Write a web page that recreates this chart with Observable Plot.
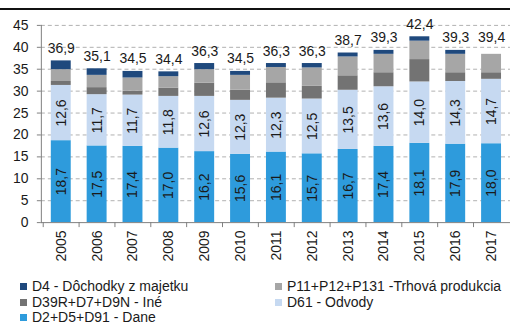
<!DOCTYPE html>
<html>
<head>
<meta charset="utf-8">
<script src="https://cdn.jsdelivr.net/npm/d3@7"></script>
<script src="https://cdn.jsdelivr.net/npm/@observablehq/plot@0.6"></script>
<style>
  html, body { margin: 0; padding: 0; background: #fff; overflow: hidden; width: 510px; height: 325px; }
  body { position: relative; font-family: "Liberation Sans", Arial, sans-serif; color: #1a1a1a; }
  #topline { position: absolute; left: 0; top: 8px; width: 510px; height: 2px; background: #111; }
  #chart { position: absolute; left: 0; top: 0; }
  #legend { position: absolute; left: 20px; top: 279px; display: grid; grid-template-columns: 255px auto;
            font-size: 14px; line-height: 15.5px; }
  .item { display: flex; align-items: center; white-space: nowrap; }
  .sw { width: 7px; height: 7px; margin-right: 5px; flex: none; }
</style>
</head>
<body>
<div id="topline"></div>
<div id="chart"></div>
<div id="legend"></div>
<script>
// Revenue structure by year (% of GDP)
const years = ["2005","2006","2007","2008","2009","2010","2011","2012","2013","2014","2015","2016","2017"];
const dane      = [18.7, 17.5, 17.4, 17.0, 16.2, 15.6, 16.1, 15.7, 16.7, 17.4, 18.1, 17.9, 18.0];
const odvody    = [12.6, 11.7, 11.7, 11.8, 12.6, 12.3, 12.3, 12.5, 13.5, 13.6, 14.0, 14.3, 14.7];
const ine       = [0.9, 1.6, 0.9, 1.9, 3.0, 2.3, 3.5, 2.9, 3.3, 3.2, 5.1, 2.0, 1.5];
const trhova    = [2.7, 2.8, 3.0, 2.6, 3.1, 3.4, 3.5, 4.2, 4.3, 4.2, 4.2, 4.2, 4.2];
const dochodky  = [2.0, 1.5, 1.5, 1.1, 1.4, 0.9, 0.9, 1.0, 0.9, 0.9, 1.0, 0.9, null];
const totals    = [36.9, 35.1, 34.5, 34.4, 36.3, 34.5, 36.3, 36.3, 38.7, 39.3, 42.4, 39.3, 39.4];
const yTicks    = [0, 5, 10, 15, 20, 25, 30, 35, 40, 45];

// stacking order, bottom to top
const series = [
  { name: "D2+D5+D91 - Dane",               color: "#2e9bdc", values: dane,     labelled: true },
  { name: "D61 - Odvody",                   color: "#c6d9f1", values: odvody,   labelled: true },
  { name: "D39R+D7+D9N - Iné",              color: "#737373", values: ine },
  { name: "P11+P12+P131 -Trhová produkcia", color: "#a6a6a6", values: trhova },
  { name: "D4 - Dôchodky z majetku",        color: "#1f497d", values: dochodky }
];

const rows = years.flatMap((year, i) =>
  series.map(s => ({ year, series: s.name, value: s.values[i], labelled: !!s.labelled }))
        .filter(d => d.value != null)
);

const fmt = v => v.toFixed(1).replace(".", ",");

const W = 512, H = 270, mL = 41, mR = 0, mT = 25, mB = 47;
const step = (W - mL - mR) / years.length;
const axisGray = "#7f7f7f";
const order = series.map(s => s.name);

const chart = Plot.plot({
  width: W, height: H,
  marginLeft: mL, marginRight: mR, marginTop: mT, marginBottom: mB,
  style: { fontFamily: "Liberation Sans, Arial, sans-serif", fontSize: "14px", color: "#1a1a1a", background: "transparent", overflow: "visible" },
  x: { type: "band", domain: years, paddingInner: 0.45, paddingOuter: 0.225, axis: null, label: null },
  y: { domain: [0, 45], axis: null, label: null },
  color: { domain: order, range: series.map(s => s.color) },
  marks: [
    Plot.gridY(yTicks.filter(t => t > 0), { stroke: "#b0b0b0", strokeOpacity: 1, strokeDasharray: "4,3" }),
    Plot.barY(rows, Plot.stackY({ x: "year", y: "value", fill: "series", z: "series", order })),
    Plot.text(rows, Plot.stackY({
      x: "year", y: "value", z: "series", order,
      text: d => d.labelled ? fmt(d.value) : null,
      rotate: -90, fill: "#1a1a1a", fontSize: 14
    })),
    Plot.text(years, {
      x: d => d, y: (d, i) => totals[i], text: (d, i) => fmt(totals[i]),
      lineAnchor: "bottom", dy: -8, fill: "#1a1a1a", fontSize: 14
    }),
    Plot.frame({ anchor: "left", stroke: axisGray }),
    Plot.ruleY([0], { stroke: axisGray }),
    Plot.axisY({ ticks: yTicks, tickSize: 4, tickPadding: 9, stroke: axisGray, fill: "#1a1a1a", fontSize: 14, label: null }),
    Plot.axisX({ tickSize: 5, tickFormat: () => "", dx: -step / 2, stroke: axisGray, label: null }),
    Plot.axisX({ tickSize: 0, tickPadding: 8, tickRotate: -90, fill: "#1a1a1a", fontSize: 14, label: null })
  ]
});
document.getElementById("chart").appendChild(chart);

// legend: two columns, read row by row
const legendOrder = [
  "D4 - Dôchodky z majetku", "P11+P12+P131 -Trhová produkcia",
  "D39R+D7+D9N - Iné", "D61 - Odvody",
  "D2+D5+D91 - Dane"
];
const legend = document.getElementById("legend");
for (const name of legendOrder) {
  const s = series.find(t => t.name === name);
  const item = document.createElement("div");
  item.className = "item";
  const sw = document.createElement("span");
  sw.className = "sw";
  sw.style.background = s.color;
  const label = document.createElement("span");
  label.textContent = s.name;
  item.append(sw, label);
  legend.appendChild(item);
}
</script>
</body>
</html>
